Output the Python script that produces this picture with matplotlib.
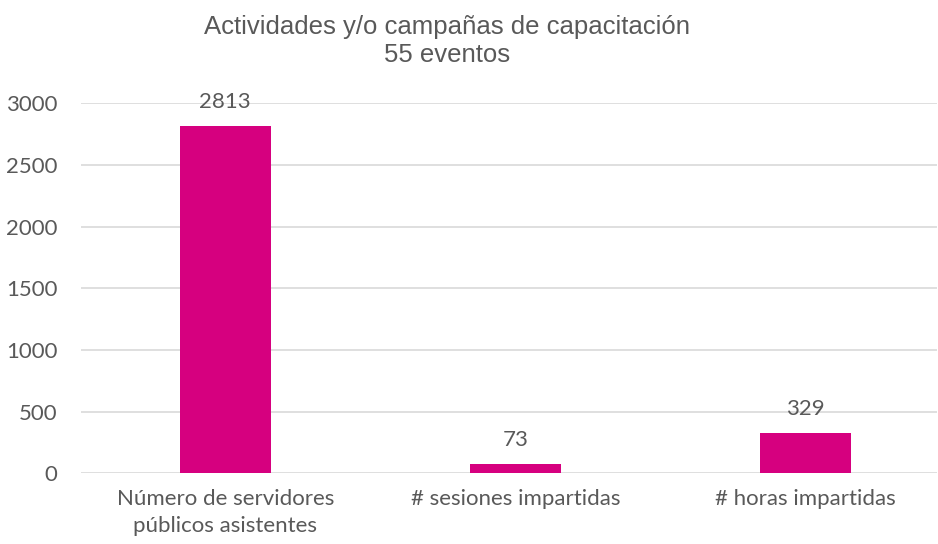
import matplotlib
matplotlib.use("Agg")
import matplotlib.pyplot as plt

categories = ["Número de servidores\npúblicos asistentes", "# sesiones impartidas", "# horas impartidas"]
values = [2813, 73, 329]
yticks = [0, 500, 1000, 1500, 2000, 2500, 3000]
title = "Actividades y/o campañas de capacitación\n55 eventos"

bar_color = "#D6007F"
text_color = "#595959"
grid_color = "#D9D9D9"
body_font = ["Lato", "DejaVu Sans"]

fig = plt.figure(figsize=(9.38, 5.44), dpi=100)
L = 81 / 938
R = 937 / 938
B = (544 - 473.3) / 544
T = (544 - 103.3) / 544
ax = fig.add_axes([L, B, R - L, T - B])

x = list(range(len(categories)))
bars = ax.bar(x, values, width=0.313, color=bar_color, zorder=3)
ax.set_xlim(-0.497, 2.452)
ax.set_ylim(0, 3000)
ax.set_yticks(yticks)
ax.set_yticklabels([str(t) for t in yticks], fontsize=16, color=text_color, family=body_font)
ax.set_xticks(x)
ax.set_xticklabels(categories, fontsize=16, color=text_color, family=body_font, linespacing=1.45)
ax.tick_params(axis="both", length=0)
ax.tick_params(axis="x", pad=11)
ax.tick_params(axis="y", pad=17)
ax.yaxis.grid(True, color=grid_color, linewidth=1.2, zorder=0)
for s in ax.spines.values():
    s.set_visible(False)

for xi, v in zip(x, values):
    ax.annotate(str(v), (xi, v), xytext=(0, 13), textcoords="offset points",
                ha="center", va="baseline", fontsize=16, color=text_color, family=body_font)

fig.text(447 / 938, 1 - 41 / 544, title, ha="center", va="center", fontsize=18.5,
         color=text_color, family=["Liberation Sans", "DejaVu Sans"], linespacing=1.22)

fig.savefig("out.png", dpi=100)
